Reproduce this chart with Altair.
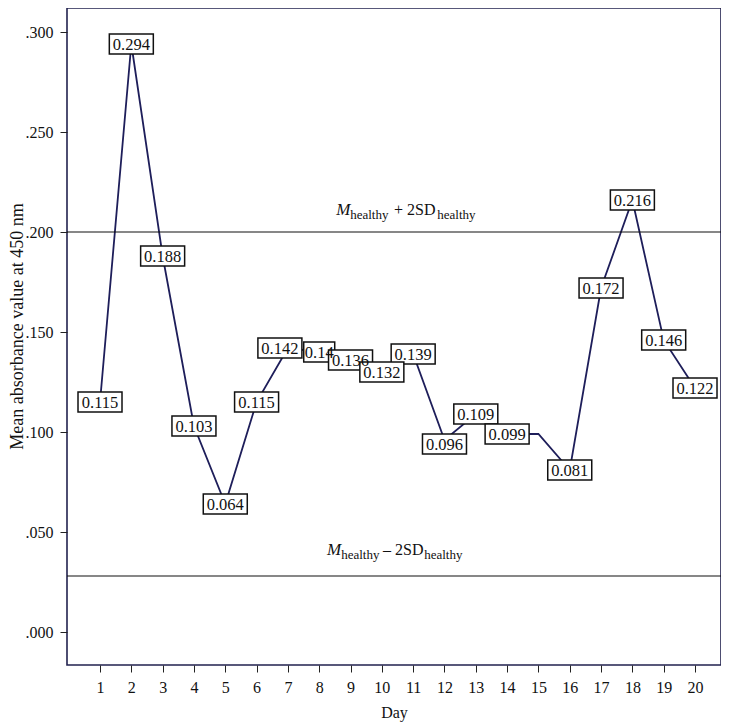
import altair as alt
import pandas as pd

# ---- data ----
days = list(range(1, 21))
values = [0.115, 0.294, 0.188, 0.103, 0.064, 0.115, 0.142, 0.14, 0.136, 0.132,
          0.139, 0.096, 0.109, 0.099, 0.099, 0.081, 0.172, 0.216, 0.146, 0.122]
labels = ["0.115", "0.294", "0.188", "0.103", "0.064", "0.115", "0.142", "0.14",
          "0.136", "0.132", "0.139", "0.096", "0.109", "0.099", "", "0.081",
          "0.172", "0.216", "0.146", "0.122"]
limits = [0.200, 0.028]
y_ticks = [0.0, 0.05, 0.10, 0.15, 0.20, 0.25, 0.30]

# label nudges (pixels) used by the original to avoid collisions
label_shifts = {7: (-8, 0), 10: (0, 4), 12: (0, 4)}

FONT = "Liberation Serif"
LINE_COLOR = "#1e1e5a"
FRAME_COLOR = "#22224f"

df = pd.DataFrame({"day": days, "value": values, "label": labels})
lim_df = pd.DataFrame({"limit": limits})

x_scale = alt.Scale(domain=[-0.054, 20.83], nice=False, zero=False)
y_scale = alt.Scale(domain=[-0.0165, 0.312], nice=False, zero=False)

x_axis = alt.Axis(values=days, format="d", title="Day", grid=False,
                  domain=False, tickSize=7, tickColor="#222",
                  labelPadding=7, labelFont=FONT, labelFontSize=16,
                  labelColor="#111", labelFlush=False, labelOverlap=False,
                  titleFont=FONT, titleFontSize=16, titleFontWeight="normal",
                  titleColor="#111", titleY=39, titleBaseline="top")
y_axis = alt.Axis(values=y_ticks, grid=False, domain=False, tickSize=7,
                  tickColor="#222", labelPadding=7, labelOverlap=False,
                  labelExpr="replace(format(datum.value, '.3f'), '0.', '.')",
                  labelFont=FONT, labelFontSize=16, labelColor="#111",
                  title="Mean absorbance value at 450 nm",
                  titleFont=FONT, titleFontSize=18, titleFontWeight="normal",
                  titleColor="#111", titleX=-50, titleY=318,
                  titleBaseline="middle")

X = alt.X("day:Q", scale=x_scale, axis=x_axis)
Y = alt.Y("value:Q", scale=y_scale, axis=y_axis)

line = alt.Chart(df).mark_line(color=LINE_COLOR, strokeWidth=1.8).encode(x=X, y=Y)

rules = alt.Chart(lim_df).mark_rule(color="#111", strokeWidth=1.1).encode(
    y=alt.Y("limit:Q", scale=y_scale, axis=y_axis))


def label_base(filter_expr):
    return alt.Chart(df).transform_filter("datum.label != ''").transform_filter(filter_expr)


def box_layer(filter_expr, dx, dy):
    return label_base(filter_expr).transform_calculate(
        w="13*length(datum.label) - 21",
    ).transform_calculate(
        r="20 / datum.w",
        size="datum.w * datum.w",
    ).transform_calculate(
        shape="'M-1,' + (-datum.r) + 'L1,' + (-datum.r) + 'L1,' + datum.r + 'L-1,' + datum.r + 'Z'"
    ).mark_point(filled=True, fill="white", stroke="#111", strokeWidth=1.5,
                 opacity=1, xOffset=dx, yOffset=dy).encode(
        x=X, y=Y,
        shape=alt.Shape("shape:N", scale=None, legend=None),
        size=alt.Size("size:Q", scale=None, legend=None),
    )


def text_layer(filter_expr, dx, dy):
    return label_base(filter_expr).mark_text(
        font=FONT, fontSize=16.5, color="#111", baseline="middle",
        align="center", dx=dx, dy=dy + 1).encode(x=X, y=Y, text="label:N")


groups = [("indexof(%s, datum.day) < 0" % str(list(label_shifts.keys())), 0, 0)]
groups += [("datum.day == %d" % d, sx, sy) for d, (sx, sy) in label_shifts.items()]

layers = [line, rules]
layers += [box_layer(f, sx, sy) for f, sx, sy in groups]
layers += [text_layer(f, sx, sy) for f, sx, sy in groups]


def ann(xd, yv, dy, txt, size, italic=False):
    return alt.Chart(lim_df).transform_filter("datum.limit == %r" % yv).mark_text(
        font=FONT, fontSize=size, fontStyle="italic" if italic else "normal",
        align="left", baseline="alphabetic", dy=dy, color="#111").encode(
        x=alt.X(datum=xd, scale=x_scale, axis=x_axis),
        y=alt.Y("limit:Q", scale=y_scale, axis=y_axis),
        text=alt.value(txt))


layers += [
    ann(8.54, limits[0], -17, "M", 17, True),
    ann(8.99, limits[0], -13, "healthy", 13),
    ann(10.39, limits[0], -17, "+ 2SD", 16),
    ann(11.77, limits[0], -13, "healthy", 13),
    ann(8.25, limits[1], -21, "M", 17, True),
    ann(8.70, limits[1], -17, "healthy", 13),
    ann(10.04, limits[1], -21, "\u2013 2SD", 16),
    ann(11.35, limits[1], -17, "healthy", 13),
]

chart = alt.layer(*layers).properties(
    width=654, height=657,
    autosize=alt.AutoSizeParams(type="none"),
    padding={"left": 59, "top": 0, "right": 0, "bottom": 57},
    background="white",
).configure_view(stroke=FRAME_COLOR, strokeWidth=1.6).configure_axis(
    labelFont=FONT, titleFont=FONT)

chart.save("out.html", embed_options={"renderer": "svg", "actions": False})
